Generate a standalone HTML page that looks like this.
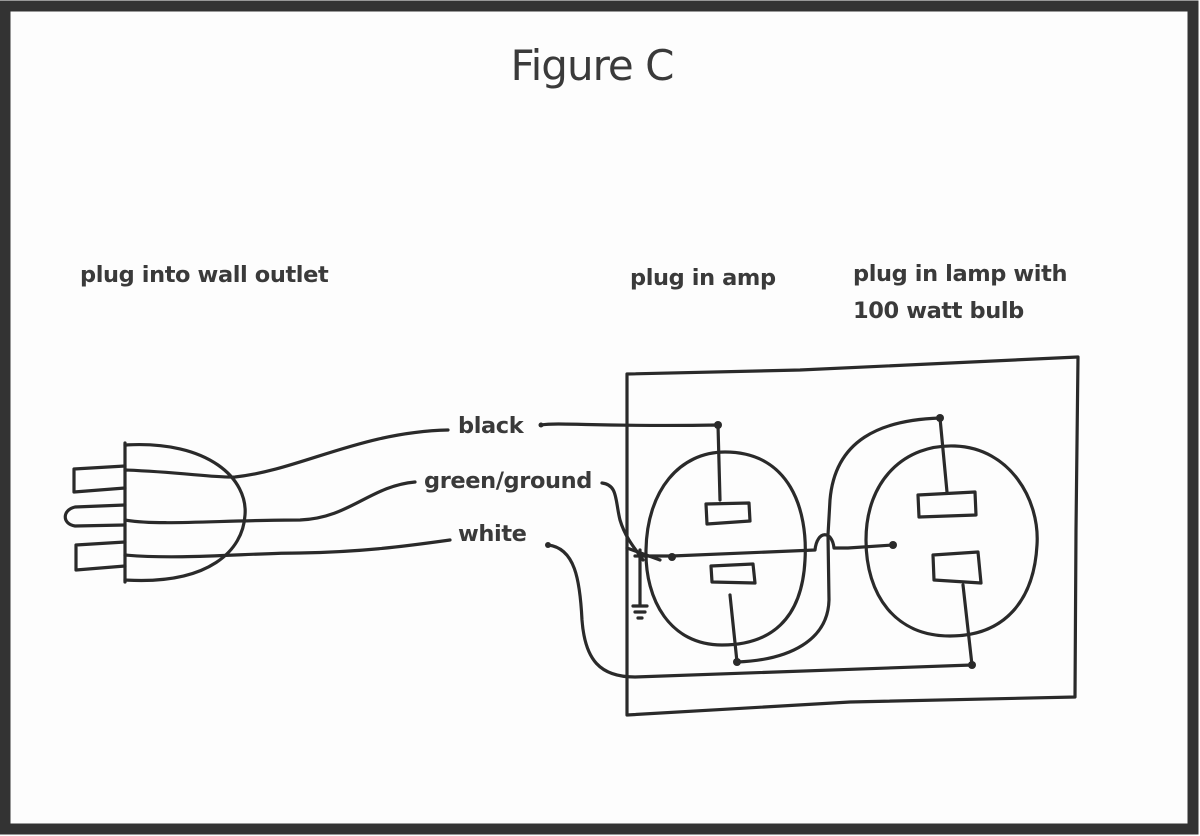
<!DOCTYPE html>
<html><head><meta charset="utf-8"><style>
html,body{margin:0;padding:0;background:#fff;}
svg{display:block}
text{font-family:"DejaVu Sans","Liberation Sans",sans-serif;fill:#3a3a3a}
</style></head><body>
<svg width="1200" height="836" viewBox="0 0 1200 836" xmlns="http://www.w3.org/2000/svg">
<rect x="0" y="0" width="1200" height="836" fill="#fdfdfd"/>
<rect x="5" y="6" width="1188" height="823" fill="none" stroke="#333" stroke-width="11"/>
<text x="592" y="80" font-size="42" text-anchor="middle" style="letter-spacing:-1px">Figure C</text>
<g font-size="22.5" font-weight="bold" style="letter-spacing:-0.4px">
<text x="80" y="282">plug into wall outlet</text>
<text x="630" y="285">plug in amp</text>
<text x="853" y="281">plug in lamp with</text>
<text x="853" y="318">100 watt bulb</text>
<text x="458" y="433">black</text>
<text x="424" y="488">green/ground</text>
<text x="458" y="541">white</text>
</g>
<g fill="none" stroke="#2a2a2a" stroke-width="3.2" stroke-linecap="round" stroke-linejoin="round">
<path d="M125,443 L125,582"/>
<path d="M125,445 C210,440 248,480 245,515 C243,550 210,585 125,580"/>
<path d="M125,466 L74,469 L74,492 L125,488"/>
<path d="M125,505 L75,507 C62,510 62,524 75,526 L125,525"/>
<path d="M125,542 L76,545 L76,570 L125,566"/>
<path d="M125,470 C180,472 215,478 235,477 C300,470 360,432 448,430"/>
<path d="M125,520 C160,526 220,520 300,520 C350,518 370,486 415,482"/>
<path d="M125,555 C180,560 250,553 300,553 C360,552 400,547 450,540"/>
<path d="M627,374 L800,370 L1078,357 L1076,530 L1075,697 L850,702 L627,715 Z"/>
<path d="M725,452 C790,452 808,510 805,560 C802,620 770,645 722,645 C670,645 645,600 646,550 C647,490 680,452 725,452 Z"/>
<path d="M955,446 C1010,448 1040,500 1037,545 C1034,600 1005,636 950,636 C895,636 866,595 866,540 C866,480 905,444 955,446 Z"/>
<path d="M706,504 L749,503 L750,521 L707,524 Z"/>
<path d="M711,566 L753,564 L755,583 L712,582 Z"/>
<path d="M918,495 L975,492 L976,515 L919,517 Z"/>
<path d="M933,555 L978,552 L981,583 L934,580 Z"/>
<path d="M541,425 C560,422 600,427 718,425 L720,500"/>
<path d="M940,418 L947,492"/>
<path d="M940,418 C880,420 835,440 830,500 L828,535 L829,600 C828,640 790,660 737,662 L730,595"/>
<path d="M635,556 L672,556 L815,550 C817,530 832,530 834,548 L848,548 L893,545"/>
<path d="M963,585 L972,665"/>
<path d="M548,545 C575,548 580,580 582,620 C585,660 600,677 635,677 L972,665"/>
<path d="M602,483 C618,485 615,500 620,520 C626,540 638,552 643,560"/>
<path d="M640,550 L640,605"/>
<path d="M633,606 L647,606 M635,612 L645,612 M638,618 L642,618"/>
<path d="M627,548 L660,560"/>
</g>
<g fill="#2a2a2a">
<circle cx="718" cy="425" r="4"/><circle cx="940" cy="418" r="4"/>
<circle cx="672" cy="557" r="4"/><circle cx="893" cy="545" r="4"/>
<circle cx="737" cy="662" r="4"/><circle cx="972" cy="665" r="4"/>
<circle cx="548" cy="545" r="3"/><circle cx="541" cy="425" r="2.5"/>
</g>
</svg>
</body></html>
